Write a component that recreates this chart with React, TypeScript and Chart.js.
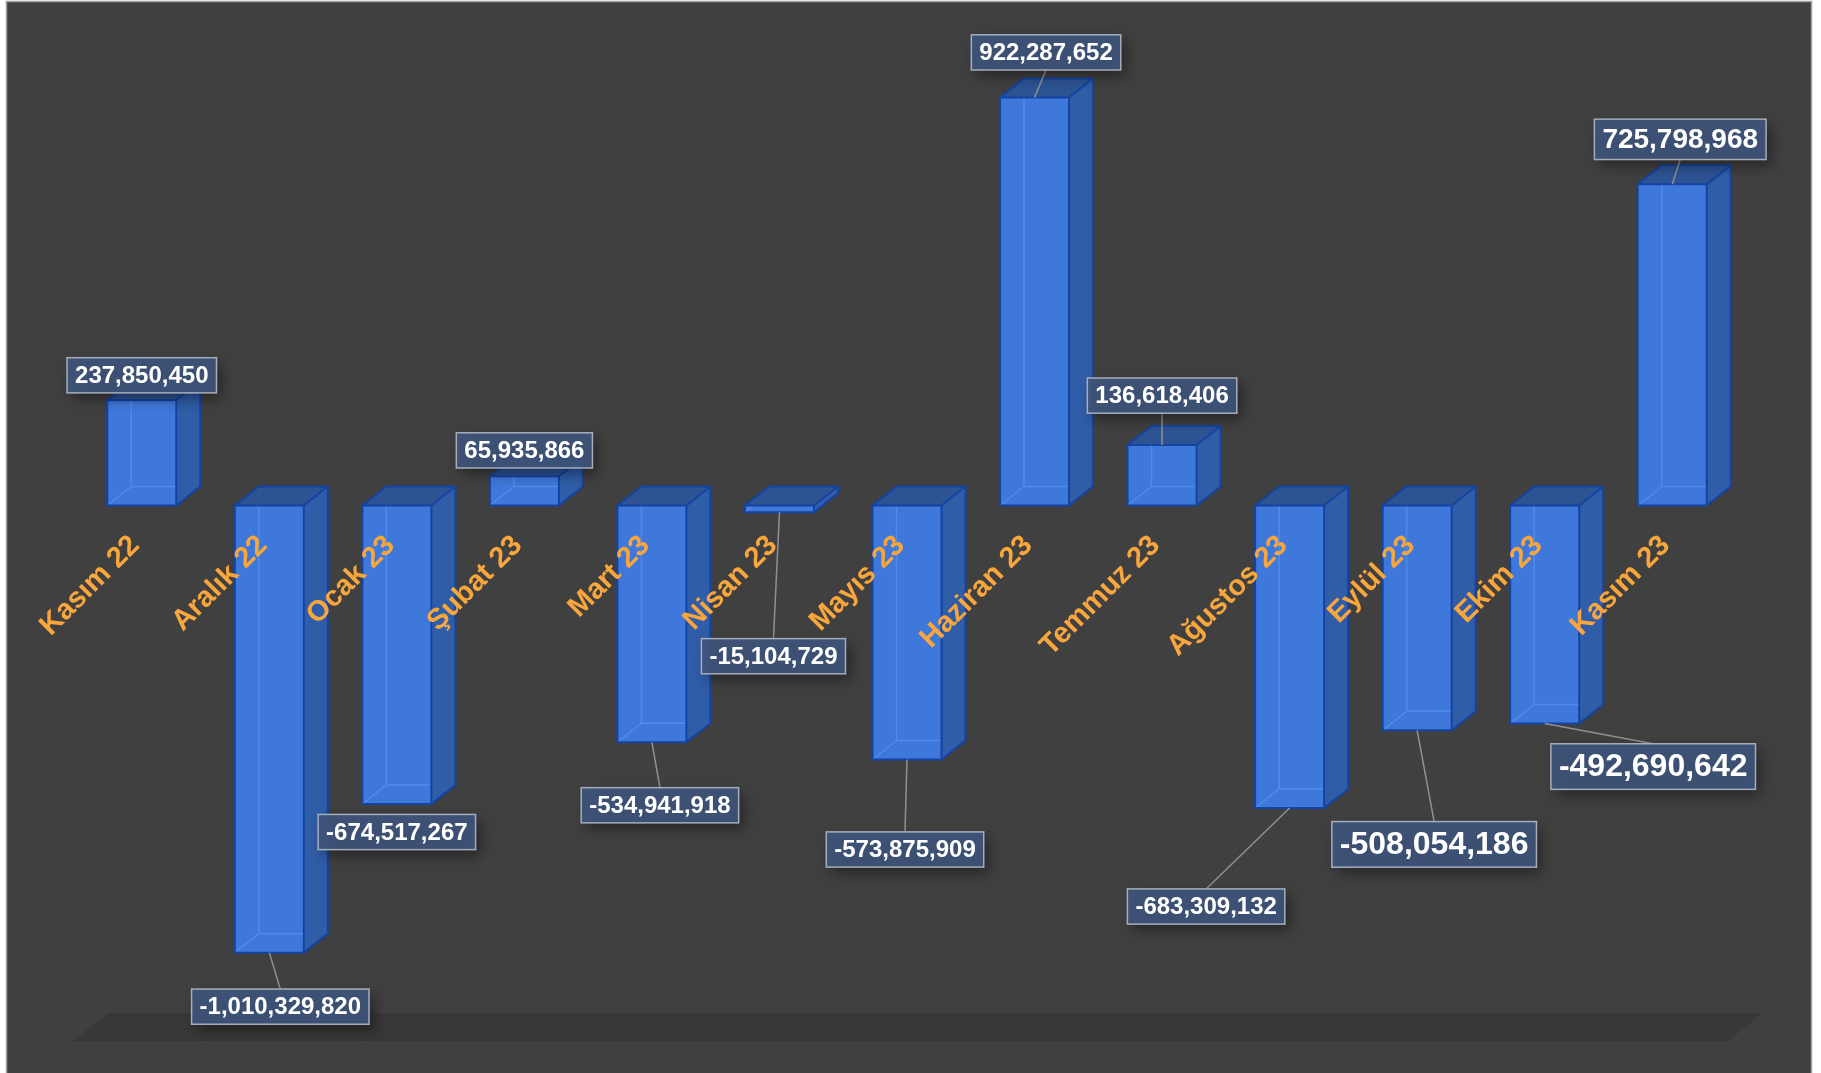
import React, { useEffect, useRef } from 'react';
import { Chart, registerables } from 'chart.js';

Chart.register(...registerables);

// ---- data ----
const categories = [
  'Kasım 22', 'Aralık 22', 'Ocak 23', 'Şubat 23', 'Mart 23', 'Nisan 23', 'Mayıs 23',
  'Haziran 23', 'Temmuz 23', 'Ağustos 23', 'Eylül 23', 'Ekim 23', 'Kasım 23',
];
const values = [
  237850450, -1010329820, -674517267, 65935866, -534941918, -15104729, -573875909,
  922287652, 136618406, -683309132, -508054186, -492690642, 725798968,
];
const yMin = -1.21e9;
const yMax = 1.0e9;

// ---- label layout (offset of the label box centre from the bar end, px) ----
const labelOffsets: [number, number][] = [
  [0, -25], [11, 54], [0, 28], [0, -26], [8, 63], [-6, 144], [-2, 90],
  [11.5, -45], [0, -49.5], [-83.5, 98.6], [17, 114], [108.5, 43], [8, -45],
];
const labelFontSizes = [24, 24, 24, 24, 24, 24, 24, 24, 24, 24, 32, 32, 28];

const FONT = '"Liberation Sans", Arial, sans-serif';
const DX = 24;
const DY = 19;

const threeDPlugin = {
  id: 'threeD',
  beforeDraw(chart: any) {
    const { ctx, width, height, chartArea: a } = chart;
    ctx.save();
    ctx.fillStyle = '#ffffff';
    ctx.fillRect(0, 0, width, height);
    ctx.fillStyle = '#404040';
    ctx.fillRect(6, 1, width - 15, height + 10);
    ctx.strokeStyle = '#a0a0a0';
    ctx.lineWidth = 1.5;
    ctx.strokeRect(6.5, 1.5, width - 16, height + 10);
    // floor
    ctx.fillStyle = '#383838';
    ctx.beginPath();
    ctx.moveTo(a.left - 5, a.bottom);
    ctx.lineTo(a.right - 8, a.bottom);
    ctx.lineTo(a.right + 27, a.bottom - 28);
    ctx.lineTo(a.left + 30, a.bottom - 28);
    ctx.closePath();
    ctx.fill();
    ctx.restore();
  },
  afterDatasetsDraw(chart: any) {
    const { ctx } = chart;
    const meta = chart.getDatasetMeta(0);
    ctx.save();
    meta.data.forEach((bar: any) => {
      const { x, y, base, width } = bar.getProps(['x', 'y', 'base', 'width'], true);
      const x0 = x - width / 2;
      const x1 = x + width / 2;
      const top = Math.min(y, base);
      const bot = Math.max(y, base);
      // faint hidden edges seen through
      ctx.strokeStyle = 'rgba(95,155,245,0.55)';
      ctx.lineWidth = 1.5;
      ctx.beginPath();
      ctx.moveTo(x0 + DX, top - DY);
      ctx.lineTo(x0 + DX, bot - DY);
      ctx.lineTo(x1 + DX, bot - DY);
      ctx.moveTo(x0 + DX, bot - DY);
      ctx.lineTo(x0, bot);
      ctx.stroke();
      // side face
      ctx.fillStyle = 'rgba(47,94,170,0.97)';
      ctx.beginPath();
      ctx.moveTo(x1, top);
      ctx.lineTo(x1 + DX, top - DY);
      ctx.lineTo(x1 + DX, bot - DY);
      ctx.lineTo(x1, bot);
      ctx.closePath();
      ctx.fill();
      // top face
      ctx.fillStyle = 'rgba(44,84,150,0.97)';
      ctx.beginPath();
      ctx.moveTo(x0, top);
      ctx.lineTo(x0 + DX, top - DY);
      ctx.lineTo(x1 + DX, top - DY);
      ctx.lineTo(x1, top);
      ctx.closePath();
      ctx.fill();
      // edges
      ctx.strokeStyle = '#1443a3';
      ctx.lineWidth = 2;
      ctx.lineJoin = 'round';
      ctx.beginPath();
      ctx.rect(x0, top, width, bot - top);
      ctx.moveTo(x0, top);
      ctx.lineTo(x0 + DX, top - DY);
      ctx.lineTo(x1 + DX, top - DY);
      ctx.lineTo(x1, top);
      ctx.moveTo(x1 + DX, top - DY);
      ctx.lineTo(x1 + DX, bot - DY);
      ctx.lineTo(x1, bot);
      ctx.stroke();
    });
    ctx.restore();
  },
  afterDraw(chart: any) {
    const { ctx } = chart;
    const meta = chart.getDatasetMeta(0);
    const xs = chart.scales.x;
    const y0 = chart.scales.y.getPixelForValue(0);
    ctx.save();
    // category labels
    ctx.fillStyle = '#f9a63c';
    ctx.font = `bold 29px ${FONT}`;
    ctx.textAlign = 'right';
    ctx.textBaseline = 'alphabetic';
    categories.forEach((c, i) => {
      const cx = xs.getPixelForValue(i);
      ctx.save();
      ctx.translate(cx - 1, y0 + 41);
      ctx.rotate(-Math.PI / 4);
      ctx.fillText(c, 0, 0);
      ctx.restore();
    });
    // data labels
    meta.data.forEach((bar: any, i: number) => {
      const { x, y } = bar.getProps(['x', 'y'], true);
      const fs = labelFontSizes[i];
      const [dx, dy] = labelOffsets[i];
      const text = values[i].toLocaleString('en-US');
      ctx.font = `bold ${fs}px ${FONT}`;
      const tw = ctx.measureText(text).width;
      const w = tw + 16;
      const h = fs * 1.3 + 4;
      const cx = x + dx;
      const cy = y + dy;
      const edgeY = dy > 0 ? cy - h / 2 : cy + h / 2;
      const gap = Math.abs(edgeY - y);
      if (gap > 18) {
        ctx.strokeStyle = '#909090';
        ctx.lineWidth = 1.5;
        ctx.beginPath();
        ctx.moveTo(x, y);
        ctx.lineTo(cx, edgeY);
        ctx.stroke();
      }
      ctx.save();
      ctx.shadowColor = 'rgba(0,0,0,0.45)';
      ctx.shadowBlur = 14;
      ctx.shadowOffsetX = 5;
      ctx.shadowOffsetY = 6;
      ctx.fillStyle = 'rgba(62,84,122,0.93)';
      ctx.fillRect(cx - w / 2, cy - h / 2, w, h);
      ctx.restore();
      ctx.strokeStyle = '#a6aebb';
      ctx.lineWidth = 1.5;
      ctx.strokeRect(cx - w / 2, cy - h / 2, w, h);
      ctx.fillStyle = '#ffffff';
      ctx.textAlign = 'center';
      ctx.textBaseline = 'middle';
      ctx.fillText(text, cx, cy + 1);
    });
    ctx.restore();
  },
};

export default function App() {
  const ref = useRef<HTMLCanvasElement | null>(null);
  useEffect(() => {
    if (!ref.current) return;
    const chart = new Chart(ref.current, {
      type: 'bar',
      data: {
        labels: categories,
        datasets: [
          {
            data: values,
            backgroundColor: '#3f78db',
            borderWidth: 0,
            barPercentage: 0.541,
            categoryPercentage: 1.0,
          },
        ],
      },
      options: {
        animation: false,
        responsive: false,
        devicePixelRatio: 1,
        layout: { padding: { left: 78, right: 85, top: 63, bottom: 32 } },
        plugins: { legend: { display: false }, tooltip: { enabled: false }, title: { display: false } },
        scales: {
          x: { display: false, offset: true },
          y: { display: false, min: yMin, max: yMax },
        },
      },
      plugins: [threeDPlugin],
    });
    return () => chart.destroy();
  }, []);
  return (
    <div style={{ position: 'absolute', left: 0, top: 0, width: 1821, height: 1073 }}>
      <canvas ref={ref} width={1821} height={1073} style={{ width: 1821, height: 1073, display: 'block' }} />
    </div>
  );
}
